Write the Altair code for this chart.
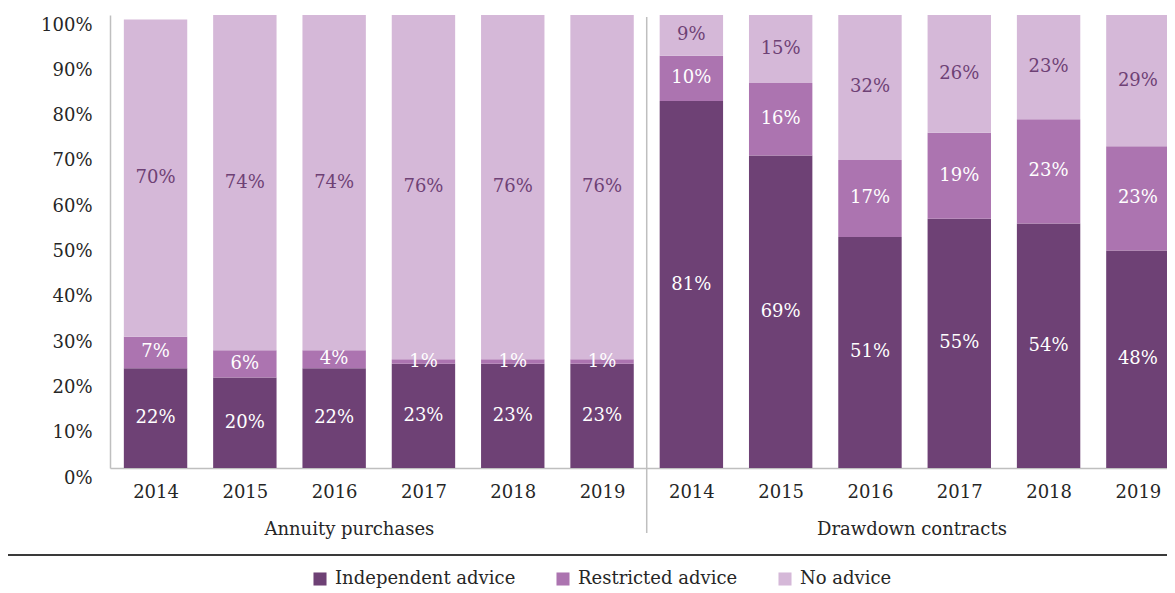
import altair as alt
import pandas as pd

# ---- data ----
years = [2014, 2015, 2016, 2017, 2018, 2019]
groups = ["Annuity purchases", "Drawdown contracts"]
categories = ["Independent advice", "Restricted advice", "No advice"]
independent = [22, 20, 22, 23, 23, 23, 81, 69, 51, 55, 54, 48]
restricted = [7, 6, 4, 1, 1, 1, 10, 16, 17, 19, 23, 23]
no_advice = [70, 74, 74, 76, 76, 76, 9, 15, 32, 26, 23, 29]

colors = ["#6E4175", "#AC74B0", "#D5B8D8"]
label_colors = ["#FFFFFF", "#FFFFFF", "#6E4175"]

FONT = "DejaVu Serif"
FS = 18
W, H = 1057, 453
BAR_HALF = 0.355

rows = []
series = [independent, restricted, no_advice]
for i in range(12):
    g = groups[i // 6]
    y = years[i % 6]
    for k, cat in enumerate(categories):
        rows.append({"idx": i, "year": y, "group": g, "category": cat,
                     "order": k, "value": series[k][i],
                     "tcolor": label_colors[k]})
df = pd.DataFrame(rows)

xscale = alt.Scale(domain=[-0.51, 11.326], nice=False, zero=False)
yscale = alt.Scale(domain=[0, 100], nice=False)

base = alt.Chart(df).transform_stack(
    stack="value", as_=["y0", "y1"], groupby=["idx"],
    sort=[alt.SortField("order", order="ascending")]
).transform_calculate(
    xl=f"datum.idx - {BAR_HALF}", xr=f"datum.idx + {BAR_HALF}",
    mid="(datum.y0 + datum.y1) / 2"
)

label_expr = "datum.value < 6 ? 2014 + datum.value : 2008 + datum.value"

bars = base.mark_bar(clip=False).encode(
    x=alt.X("xl:Q", scale=xscale,
            axis=alt.Axis(values=list(range(12)), labelExpr=label_expr,
                          title=None, ticks=False, grid=False,
                          domainColor="#BFBFBF", domainWidth=1.5,
                          labelPadding=15, labelFont=FONT, labelFontSize=FS,
                          labelColor="#262626")),
    x2="xr:Q",
    y=alt.Y("y0:Q", scale=yscale,
            axis=alt.Axis(values=list(range(0, 101, 10)),
                          labelExpr="datum.value + '%'",
                          title=None, ticks=False, grid=False,
                          domainColor="#BFBFBF", domainWidth=1.5,
                          labelPadding=18, labelOffset=10,
                          labelFont=FONT, labelFontSize=FS,
                          labelColor="#262626")),
    y2="y1:Q",
    color=alt.Color("category:N",
                    scale=alt.Scale(domain=categories, range=colors),
                    legend=alt.Legend(orient="none", legendX=201, legendY=555,
                                      direction="horizontal", title=None,
                                      symbolType="square", symbolSize=170,
                                      symbolStrokeWidth=0, symbolOpacity=1,
                                      labelFont=FONT, labelFontSize=FS,
                                      labelColor="#262626", labelOffset=6,
                                      labelLimit=0, columnPadding=38)),
)

texts = base.mark_text(font=FONT, fontSize=FS, baseline="middle",
                       align="center").encode(
    x=alt.X("idx:Q", scale=xscale),
    y=alt.Y("mid:Q", scale=yscale),
    text=alt.Text("label:N"),
    color=alt.Color("tcolor:N", scale=None),
).transform_calculate(label="datum.value + '%'")

sep_df = pd.DataFrame({"sep": [5.5]})
separator = alt.Chart(sep_df).mark_rule(color="#BFBFBF", strokeWidth=1.5).encode(
    x=alt.X("sep:Q", scale=xscale),
    y=alt.value(2),
    y2=alt.value(518),
)

grp_df = pd.DataFrame({"group": groups, "gx": [2.17, 8.47]})
group_labels = alt.Chart(grp_df).mark_text(
    font=FONT, fontSize=FS, color="#262626", baseline="middle", align="center"
).encode(
    x=alt.X("gx:Q", scale=xscale),
    y=alt.value(515),
    text="group:N",
)

bottom_line = alt.Chart(sep_df).mark_rule(color="#3A3A3A", strokeWidth=2).encode(
    x=alt.value(-102), x2=alt.value(W + 10), y=alt.value(540)
)

chart = alt.layer(bars, texts, separator, group_labels, bottom_line).properties(
    width=W, height=H,
    autosize=alt.AutoSizeParams(type="none"),
    padding={"left": 102, "top": 7, "right": 0, "bottom": 122},
).configure_view(stroke=None)

chart.save("out.html", embed_options={"renderer": "svg", "actions": False})
